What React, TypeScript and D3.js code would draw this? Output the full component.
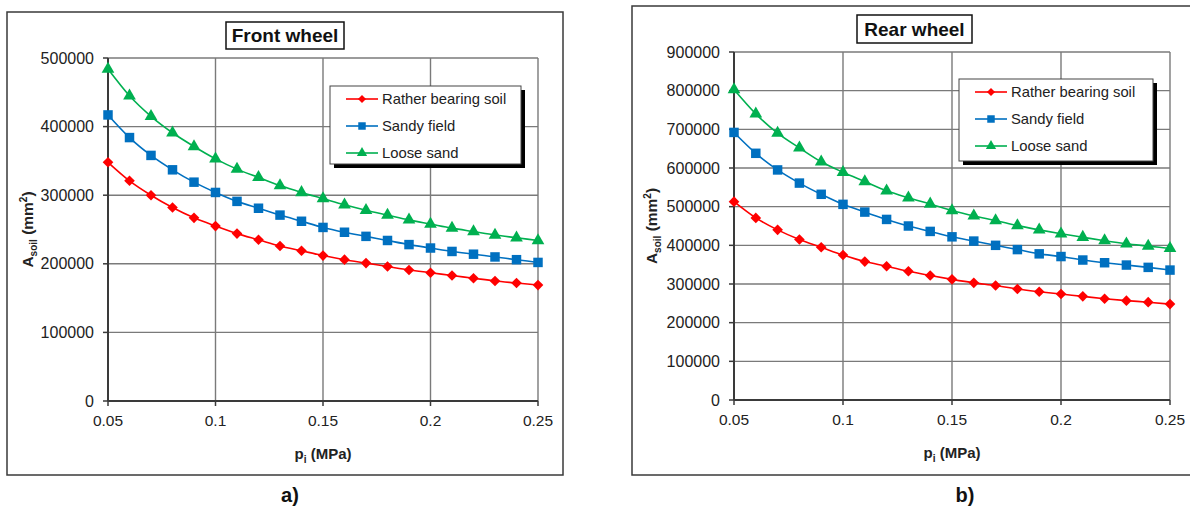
import * as d3 from "d3";

// Data
const pressures = [
  0.05, 0.06, 0.07, 0.08, 0.09, 0.1, 0.11, 0.12, 0.13, 0.14, 0.15,
  0.16, 0.17, 0.18, 0.19, 0.2, 0.21, 0.22, 0.23, 0.24, 0.25
];
const seriesNames = ["Rather bearing soil", "Sandy field", "Loose sand"];

const frontRatherBearing = [
  348000, 321000, 300000, 282000, 267000, 255000, 244000, 235000, 226000, 219000, 212000,
  206000, 201000, 196000, 191000, 187000, 183000, 179000, 175000, 172000, 169000
];
const frontSandyField = [
  417000, 384000, 358000, 337000, 319000, 304000, 291000, 281000, 271000, 262000, 253000,
  246000, 240000, 234000, 228000, 223000, 218000, 214000, 210000, 206000, 202000
];
const frontLooseSand = [
  484000, 445000, 415000, 391000, 371000, 353000, 338000, 326000, 314000, 304000, 295000,
  286000, 278000, 271000, 264000, 258000, 252000, 247000, 242000, 238000, 234000
];

const rearRatherBearing = [
  513000, 471000, 440000, 415000, 395000, 375000, 358000, 346000, 333000, 322000, 312000,
  303000, 296000, 287000, 280000, 274000, 268000, 262000, 257000, 253000, 248000
];
const rearSandyField = [
  692000, 638000, 595000, 561000, 532000, 506000, 486000, 467000, 450000, 436000, 422000,
  411000, 400000, 389000, 378000, 371000, 362000, 355000, 349000, 343000, 336000
];
const rearLooseSand = [
  803000, 740000, 690000, 652000, 616000, 589000, 565000, 541000, 523000, 507000, 490000,
  476000, 464000, 451000, 440000, 430000, 421000, 412000, 404000, 398000, 392000
];

const xTicks = [0.05, 0.1, 0.15, 0.2, 0.25];
const xTickLabels = ["0.05", "0.1", "0.15", "0.2", "0.25"];
const frontYTicks = [0, 100000, 200000, 300000, 400000, 500000];
const rearYTicks = [0, 100000, 200000, 300000, 400000, 500000, 600000, 700000, 800000, 900000];

// Styles
const colors = ["#ff0000", "#0070c0", "#00b050"];
const symbols = [d3.symbolDiamond2, d3.symbolSquare, d3.symbolTriangle];
const symbolSizes = [72, 90, 70];
const legendSizes = [42, 56, 46];
const font = "'Liberation Sans', Arial, sans-serif";
const gridColor = "#7a7a7a";
const axisColor = "#3a3a3a";

type Box = { x0: number; x1: number; y0: number; y1: number };

type PanelProps = {
  frame: Box;
  plot: Box;
  titleBox: Box;
  legend: Box;
  title: string;
  caption: string;
  captionX: number;
  yLabelX: number;
  yTicks: number[];
  series: number[][];
};

const Panel = ({ frame, plot, titleBox, legend, title, caption, captionX, yLabelX, yTicks, series }: PanelProps) => {
  const x = d3.scaleLinear().domain([0.05, 0.25]).range([plot.x0, plot.x1]);
  const y = d3.scaleLinear().domain([0, yTicks[yTicks.length - 1]]).range([plot.y1, plot.y0]);

  const line = d3.line<number>()
    .x((_, i) => x(pressures[i]))
    .y(d => y(d))
    .curve(d3.curveMonotoneX);

  const yMid = (plot.y0 + plot.y1) / 2;
  const xMid = (plot.x0 + plot.x1) / 2;

  return (
    <g>
      {/* outer frame */}
      <rect x={frame.x0} y={frame.y0} width={frame.x1 - frame.x0} height={frame.y1 - frame.y0}
        fill="white" stroke={axisColor} strokeWidth={1.5} />

      {/* grid */}
      {yTicks.map(t => (
        <line key={"gy" + t} x1={plot.x0} x2={plot.x1} y1={y(t)} y2={y(t)} stroke={gridColor} strokeWidth={1.4} />
      ))}
      {xTicks.map(t => (
        <line key={"gx" + t} x1={x(t)} x2={x(t)} y1={plot.y0} y2={plot.y1} stroke={gridColor} strokeWidth={1.4} />
      ))}

      {/* axes */}
      <line x1={plot.x0} x2={plot.x0} y1={plot.y0} y2={plot.y1} stroke={axisColor} strokeWidth={2} />
      <line x1={plot.x0} x2={plot.x1} y1={plot.y1} y2={plot.y1} stroke={axisColor} strokeWidth={2} />
      {yTicks.map(t => (
        <g key={"ty" + t}>
          <line x1={plot.x0 - 5} x2={plot.x0} y1={y(t)} y2={y(t)} stroke={axisColor} strokeWidth={1.5} />
          <text x={plot.x0 - 14} y={y(t)} dy="0.35em" textAnchor="end" fontSize={16} fill="#222">{t}</text>
        </g>
      ))}
      {xTicks.map((t, i) => (
        <g key={"tx" + t}>
          <line x1={x(t)} x2={x(t)} y1={plot.y1} y2={plot.y1 + 5} stroke={axisColor} strokeWidth={1.5} />
          <text x={x(t)} y={plot.y1 + 20} dy="0.35em" textAnchor="middle" fontSize={15.5} fill="#222">{xTickLabels[i]}</text>
        </g>
      ))}

      {/* series */}
      {series.map((vals, s) => (
        <g key={"s" + s}>
          <path d={line(vals) ?? ""} fill="none" stroke={colors[s]} strokeWidth={1.6} />
          {vals.map((v, i) => (
            <path key={i} transform={`translate(${x(pressures[i])},${y(v)})`}
              d={d3.symbol(symbols[s], symbolSizes[s])() ?? ""} fill={colors[s]} />
          ))}
        </g>
      ))}

      {/* legend */}
      <rect x={legend.x0 + 4} y={legend.y0 + 4} width={legend.x1 - legend.x0} height={legend.y1 - legend.y0} fill="black" />
      <rect x={legend.x0} y={legend.y0} width={legend.x1 - legend.x0} height={legend.y1 - legend.y0}
        fill="white" stroke="#444" strokeWidth={1} />
      {seriesNames.map((name, s) => {
        const ly = legend.y0 + 13 + s * 27;
        return (
          <g key={"l" + s}>
            <line x1={legend.x0 + 16} x2={legend.x0 + 48} y1={ly} y2={ly} stroke={colors[s]} strokeWidth={1.6} />
            <path transform={`translate(${legend.x0 + 32},${ly})`} d={d3.symbol(symbols[s], legendSizes[s])() ?? ""} fill={colors[s]} />
            <text x={legend.x0 + 52} y={ly} dy="0.35em" fontSize={14.8} fill="#222">{name}</text>
          </g>
        );
      })}

      {/* title */}
      <rect x={titleBox.x0} y={titleBox.y0} width={titleBox.x1 - titleBox.x0} height={titleBox.y1 - titleBox.y0}
        fill="white" stroke="#111" strokeWidth={1.5} />
      <text x={(titleBox.x0 + titleBox.x1) / 2} y={(titleBox.y0 + titleBox.y1) / 2} dy="0.36em"
        textAnchor="middle" fontSize={19} fontWeight="bold" fill="#111">{title}</text>

      {/* axis titles */}
      <text x={xMid} y={plot.y1 + 53} dy="0.35em" textAnchor="middle" fontSize={15} fontWeight="bold" fill="#222">
        p<tspan fontSize={10} dy="4">i</tspan><tspan dy="-4"> (MPa)</tspan>
      </text>
      <text transform={`translate(${yLabelX},${yMid}) rotate(-90)`} dy="0.35em" textAnchor="middle"
        fontSize={15.5} fontWeight="bold" fill="#222">
        A<tspan fontSize={10} dy="4">soil</tspan><tspan dy="-4"> (mm</tspan><tspan fontSize={10} dy="-6">2</tspan><tspan dy="6">)</tspan>
      </text>

      {/* caption */}
      <text x={captionX} y={495} dy="0.35em" textAnchor="middle" fontSize={20} fontWeight="bold" fill="#111">{caption}</text>
    </g>
  );
};

export default function App() {
  return (
    <svg width={1190} height={506} style={{ position: "absolute", left: 0, top: 0, fontFamily: font, background: "white" }}>
      <rect width={1190} height={506} fill="white" />
      <Panel
        frame={{ x0: 7, x1: 563, y0: 12, y1: 475 }}
        plot={{ x0: 108, x1: 538, y0: 58, y1: 401 }}
        titleBox={{ x0: 226, x1: 344, y0: 22, y1: 49 }}
        legend={{ x0: 330, x1: 521, y0: 86, y1: 164 }}
        title="Front wheel"
        caption="a)"
        captionX={290}
        yLabelX={28}
        yTicks={frontYTicks}
        series={[frontRatherBearing, frontSandyField, frontLooseSand]}
      />
      <Panel
        frame={{ x0: 632, x1: 1200, y0: 6, y1: 475 }}
        plot={{ x0: 734, x1: 1170, y0: 52, y1: 400 }}
        titleBox={{ x0: 857, x1: 972, y0: 15, y1: 43 }}
        legend={{ x0: 959, x1: 1153, y0: 79, y1: 161 }}
        title="Rear wheel"
        caption="b)"
        captionX={965}
        yLabelX={652}
        yTicks={rearYTicks}
        series={[rearRatherBearing, rearSandyField, rearLooseSand]}
      />
    </svg>
  );
}
